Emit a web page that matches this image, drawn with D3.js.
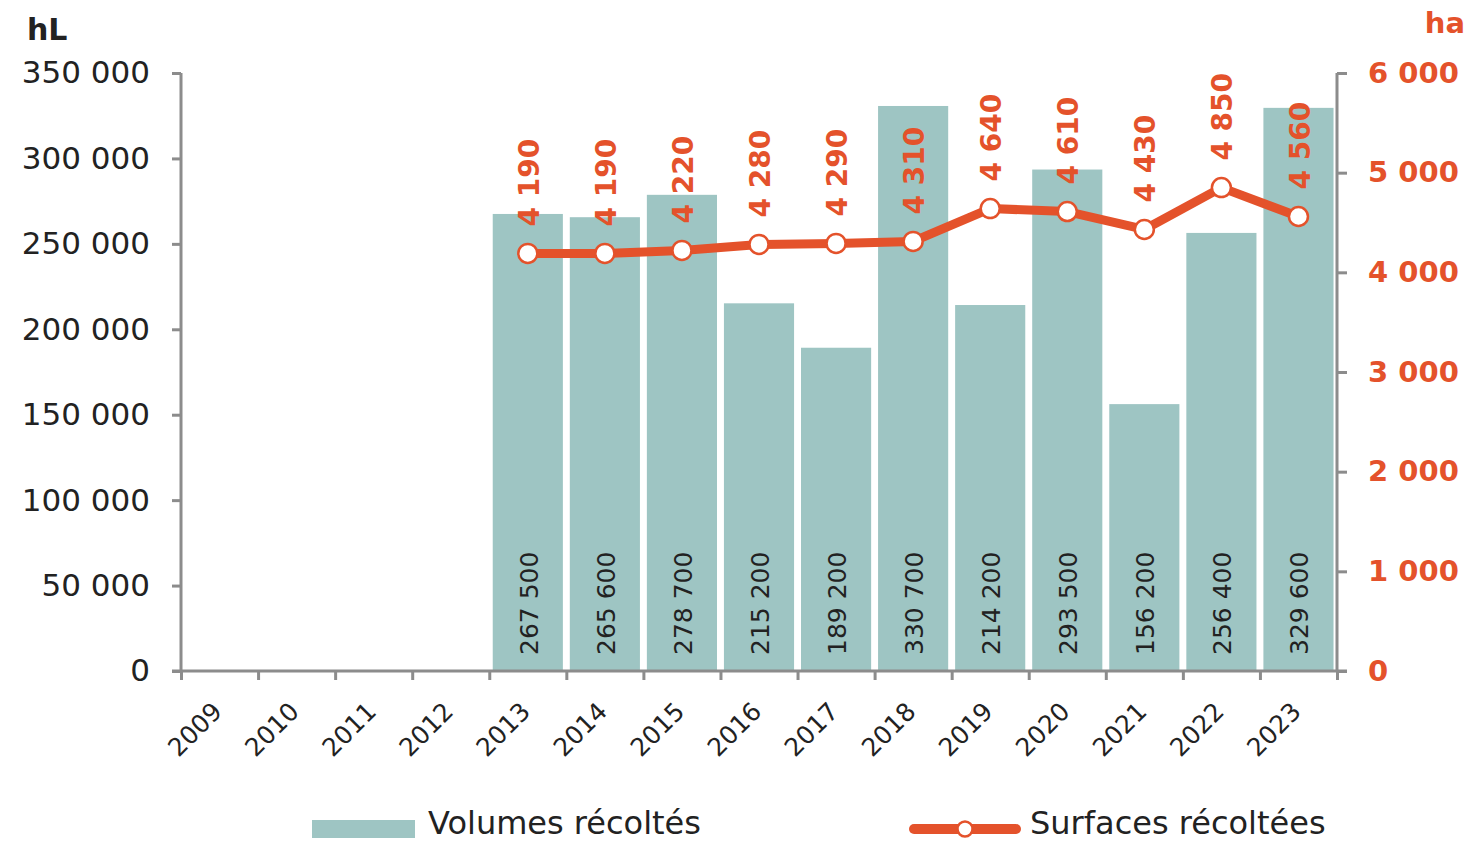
<!DOCTYPE html>
<html>
<head>
<meta charset="utf-8">
<script src="https://cdn.jsdelivr.net/npm/d3@7"></script>
<style>
  body { margin: 0; background: #fff; }
  svg { display: block; font-family: "DejaVu Sans", sans-serif; }
  .axis path, .axis line { stroke: #8c8c8c; stroke-width: 3; }
</style>
</head>
<body>
<svg id="chart" width="1469" height="842"></svg>
<script>
"use strict";

// data
const years = ["2009", "2010", "2011", "2012", "2013", "2014", "2015", "2016",
               "2017", "2018", "2019", "2020", "2021", "2022", "2023"];
const dataYears = ["2013", "2014", "2015", "2016", "2017", "2018", "2019",
                   "2020", "2021", "2022", "2023"];
const volumes = [267500, 265600, 278700, 215200, 189200, 330700, 214200,
                 293500, 156200, 256400, 329600];
const surfaces = [4190, 4190, 4220, 4280, 4290, 4310, 4640, 4610, 4430, 4850, 4560];
const volumeTicks = [0, 50000, 100000, 150000, 200000, 250000, 300000, 350000];
const surfaceTicks = [0, 1000, 2000, 3000, 4000, 5000, 6000];

const teal = "#9ec5c3";
const orange = "#e4522b";
const dark = "#222";

const plotLeft = 181, plotRight = 1337, plotTop = 73, plotBottom = 671;

const fr = d3.formatLocale({decimal: ",", thousands: "\u00a0", grouping: [3], currency: ["", "€"]});
const fmt = fr.format(",d");

const svg = d3.select("#chart");

let x = d3.scaleBand()
          .domain(years)
          .range([plotLeft, plotRight])
          .paddingInner(0.09)
          .paddingOuter(0.045);
let xi = d3.scaleLinear().domain([0, years.length]).range([plotLeft, plotRight]);
let y = d3.scaleLinear().domain([0, 350000]).range([plotBottom, plotTop]);
let y2 = d3.scaleLinear().domain([0, 6000]).range([plotBottom, plotTop]);

let cx = (d) => x(d) + x.bandwidth() / 2;

// bars
svg.append("g")
   .selectAll("rect")
   .data(dataYears)
   .join("rect")
   .attr("x", (d) => x(d))
   .attr("width", x.bandwidth())
   .attr("y", (d, i) => y(volumes[i]))
   .attr("height", (d, i) => y(0) - y(volumes[i]))
   .attr("fill", teal);

// bar labels
svg.append("g")
   .selectAll("text")
   .data(dataYears)
   .join("text")
   .attr("transform", (d) => "translate(" + (cx(d) + 1) + "," + (plotBottom - 16) + ") rotate(-90)")
   .attr("dy", "0.36em")
   .attr("font-size", 25)
   .attr("fill", dark)
   .text((d, i) => fmt(volumes[i]));

// left axis
let yAxis = svg.append("g")
   .attr("class", "axis")
   .attr("transform", "translate(" + plotLeft + ",0)")
   .call(d3.axisLeft(y).tickValues(volumeTicks).tickFormat(fmt).tickSize(9).tickSizeOuter(0).tickPadding(22));
yAxis.selectAll("text").attr("font-size", 31).attr("fill", dark).attr("font-family", "DejaVu Sans");
yAxis.select(".domain").attr("d", "M0," + plotTop + "V" + plotBottom);

// right axis
let y2Axis = svg.append("g")
   .attr("class", "axis")
   .attr("transform", "translate(" + plotRight + ",0)")
   .call(d3.axisRight(y2).tickValues(surfaceTicks).tickFormat(fmt).tickSize(10).tickSizeOuter(0).tickPadding(21));
y2Axis.selectAll("text").attr("font-size", 29).attr("font-weight", "bold").attr("fill", orange).attr("font-family", "DejaVu Sans");
y2Axis.select(".domain").attr("d", "M0," + plotTop + "V" + plotBottom);

// bottom axis: boundary ticks
let xTicks = svg.append("g")
   .attr("class", "axis")
   .attr("transform", "translate(0," + plotBottom + ")")
   .call(d3.axisBottom(xi).tickValues(d3.range(years.length + 1)).tickFormat("").tickSize(9).tickSizeOuter(0));
xTicks.select(".domain").attr("d", "M" + (plotLeft - 9) + ",0H" + (plotRight + 10));

// bottom axis: year labels
let xLabels = svg.append("g")
   .attr("transform", "translate(0," + plotBottom + ")")
   .call(d3.axisBottom(x).tickSize(0));
xLabels.select(".domain").remove();
xLabels.selectAll("text")
       .attr("x", 0).attr("y", 0).attr("dy", 0)
       .attr("text-anchor", "end")
       .attr("transform", "translate(4,42) rotate(-45)")
       .attr("font-size", 25)
       .attr("font-family", "DejaVu Sans")
       .attr("fill", dark);

// line
let line = d3.line()
             .x((d) => cx(d))
             .y((d, i) => y2(surfaces[i]));

svg.append("path")
   .datum(dataYears)
   .attr("d", line)
   .attr("fill", "none")
   .attr("stroke", orange)
   .attr("stroke-width", 9)
   .attr("stroke-linejoin", "round");

svg.append("g")
   .selectAll("circle")
   .data(dataYears)
   .join("circle")
   .attr("cx", (d) => cx(d))
   .attr("cy", (d, i) => y2(surfaces[i]))
   .attr("r", 9.5)
   .attr("fill", "#fff")
   .attr("stroke", orange)
   .attr("stroke-width", 2.5);

// line labels
svg.append("g")
   .selectAll("text")
   .data(dataYears)
   .join("text")
   .attr("transform", (d, i) => "translate(" + (cx(d) + 1) + "," + (y2(surfaces[i]) - 27) + ") rotate(-90)")
   .attr("dy", "0.36em")
   .attr("font-size", 28)
   .attr("font-weight", "bold")
   .attr("fill", orange)
   .text((d, i) => fmt(surfaces[i]));

// unit titles
svg.append("text")
   .attr("x", 27).attr("y", 40)
   .attr("font-size", 30).attr("font-weight", "bold").attr("fill", dark)
   .text("hL");
svg.append("text")
   .attr("x", 1465).attr("y", 33)
   .attr("text-anchor", "end")
   .attr("font-size", 29).attr("font-weight", "bold").attr("fill", orange)
   .text("ha");

// legend
let legend = svg.append("g");
legend.append("rect")
      .attr("x", 312).attr("y", 820).attr("width", 103).attr("height", 18)
      .attr("fill", teal);
legend.append("text")
      .attr("x", 428).attr("y", 834)
      .attr("font-size", 32).attr("fill", dark)
      .text("Volumes récoltés");
legend.append("line")
      .attr("x1", 914).attr("x2", 1016).attr("y1", 829).attr("y2", 829)
      .attr("stroke", orange).attr("stroke-width", 10).attr("stroke-linecap", "round");
legend.append("circle")
      .attr("cx", 965).attr("cy", 829).attr("r", 7.5)
      .attr("fill", "#fff").attr("stroke", orange).attr("stroke-width", 2.5);
legend.append("text")
      .attr("x", 1030).attr("y", 834)
      .attr("font-size", 32).attr("fill", dark)
      .text("Surfaces récoltées");
</script>
</body>
</html>
